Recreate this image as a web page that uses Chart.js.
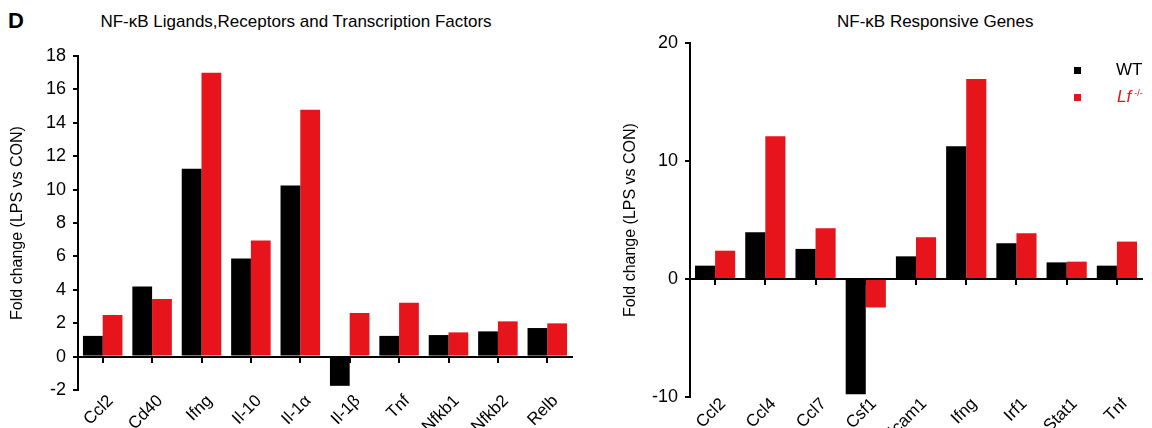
<!DOCTYPE html>
<html>
<head>
<meta charset="utf-8">
<script src="https://cdn.jsdelivr.net/npm/chart.js@4/dist/chart.umd.min.js"></script>
<style>
    body { margin: 0; width: 1152px; height: 428px; overflow: hidden; background: #fff; font-family: 'Liberation Sans', Arial, sans-serif; }
    canvas { position: absolute; top: 0; }
    .txt { position: absolute; color: #000; white-space: nowrap; }
    .panel { font-weight: bold; font-size: 22px; left: 8px; top: 8px; }
    .title { font-size: 17px; top: 12px; }
    .sw { position: absolute; width: 7px; height: 7px; }
</style>
</head>
<body>
<div class="txt panel">D</div>
<div class="txt title" style="left:0; width:592px; text-align:center;">NF-κB Ligands,Receptors and Transcription Factors</div>
<div class="txt title" style="left:837px;">NF-κB Responsive Genes</div>

<canvas id="left" width="590" height="428" style="left:0"></canvas>
<canvas id="right" width="552" height="428" style="left:600px"></canvas>

<div class="sw" style="left:1074px; top:67px; background:#000"></div>
<div class="txt" style="left:1116px; top:60px; font-size:17px;">WT</div>
<div class="sw" style="left:1074px; top:94px; background:#e8141c"></div>
<div class="txt" style="left:1117px; top:87px; font-size:17px; color:#e8141c; font-style:italic;">Lf<sup style="font-size:9px; margin-left:3px; vertical-align:6px; font-style:normal">-/-</sup></div>

<script>
// left panel: ligands, receptors, transcription factors
const leftCategories = ['Ccl2', 'Cd40', 'Ifng', 'Il-10', 'Il-1α', 'Il-1β', 'Tnf', 'Nfkb1', 'Nfkb2', 'Relb'];
const leftWT = [1.24, 4.2, 11.25, 5.88, 10.24, -1.75, 1.24, 1.29, 1.51, 1.71];
const leftLf = [2.49, 3.45, 17.0, 6.95, 14.78, 2.61, 3.23, 1.45, 2.11, 1.99];
const leftYTicks = [-2, 0, 2, 4, 6, 8, 10, 12, 14, 16, 18];

// right panel: responsive genes
const rightCategories = ['Ccl2', 'Ccl4', 'Ccl7', 'Csf1', 'Icam1', 'Ifng', 'Irf1', 'Stat1', 'Tnf'];
const rightWT = [1.13, 3.96, 2.55, -9.77, 1.92, 11.24, 3.03, 1.41, 1.13];
const rightLf = [2.4, 12.1, 4.3, -2.41, 3.54, 16.95, 3.88, 1.47, 3.17];
const rightYTicks = [-10, 0, 10, 20];

const FONT = "'Liberation Sans', Arial, sans-serif";
const RED = '#e8141c';

function makeChart(id, categories, wt, lf, yTicks, opts) {
    const ctx = document.getElementById(id).getContext('2d');
    return new Chart(ctx, {
        type: 'bar',
        data: {
            labels: categories,
            datasets: [
                { label: 'WT', data: wt, backgroundColor: '#000', borderWidth: 0, xAxisID: 'x', yAxisID: 'y' },
                { label: 'Lf-/-', data: lf, backgroundColor: RED, borderWidth: 0, xAxisID: 'x', yAxisID: 'y' }
            ]
        },
        options: {
            responsive: false,
            animation: false,
            categoryPercentage: 0.8,
            barPercentage: 1.0,
            layout: { padding: opts.padding },
            plugins: { legend: { display: false }, tooltip: { enabled: false } },
            scales: {
                // zero line with tick marks under each gene
                x: {
                    type: 'category',
                    position: { y: 0 },
                    offset: true,
                    grid: { display: true, drawOnChartArea: false, drawTicks: true, tickLength: 5, offset: false, color: '#000', lineWidth: 2 },
                    border: { display: true, color: '#000', width: 2 },
                    ticks: { display: false }
                },
                // gene labels at the bottom
                xl: {
                    type: 'category',
                    position: 'bottom',
                    offset: true,
                    grid: { display: false, drawTicks: false },
                    border: { display: false },
                    ticks: { color: '#000', font: { family: FONT, size: 17 }, minRotation: 45, maxRotation: 45, padding: opts.labelPad, labelOffset: 8, autoSkip: false },
                    afterFit: s => { s.height = opts.labelHeight; s.paddingLeft = 0; s.paddingRight = 0; }
                },
                y: {
                    min: yTicks[0],
                    max: yTicks[yTicks.length - 1],
                    afterBuildTicks: s => { s.ticks = yTicks.map(v => ({ value: v })); },
                    grid: { display: true, drawOnChartArea: false, drawTicks: true, tickLength: 5, color: '#000', lineWidth: 2 },
                    border: { display: true, color: '#000', width: 2 },
                    ticks: { color: '#000', font: { family: FONT, size: 18 }, padding: 7 },
                    title: { display: true, text: 'Fold change (LPS vs CON)', color: '#000', font: { family: FONT, size: 16 }, padding: { top: opts.titlePad, bottom: 0 } },
                    afterFit: s => { s.width = opts.axisWidth; }
                }
            }
        }
    });
}

makeChart('left', leftCategories, leftWT, leftLf, leftYTicks, {
    padding: { top: 56, right: 18, left: 0, bottom: 0 },
    axisWidth: 78, labelHeight: 38, labelPad: 1, titlePad: 8
});

makeChart('right', rightCategories, rightWT, rightLf, rightYTicks, {
    padding: { top: 43, right: 10, left: 0, bottom: 0 },
    axisWidth: 90, labelHeight: 31, labelPad: -3, titlePad: 21
});
</script>
</body>
</html>
